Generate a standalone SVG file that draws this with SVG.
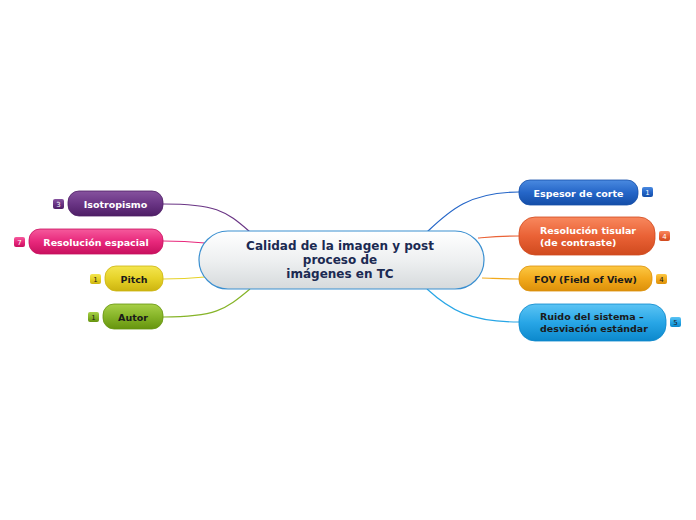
<svg xmlns="http://www.w3.org/2000/svg" width="696" height="520" viewBox="0 0 696 520">
<defs>
<linearGradient id="gc" x1="0" y1="0" x2="0" y2="1"><stop offset="0" stop-color="#ffffff"/><stop offset="0.5" stop-color="#eef0f1"/><stop offset="1" stop-color="#d6dadc"/></linearGradient>
<linearGradient id="gpur" x1="0" y1="0" x2="0" y2="1"><stop offset="0" stop-color="#86529e"/><stop offset="0.5" stop-color="#6a3585"/><stop offset="1" stop-color="#4e1e66"/></linearGradient>
<linearGradient id="gpink" x1="0" y1="0" x2="0" y2="1"><stop offset="0" stop-color="#f55a9c"/><stop offset="0.5" stop-color="#e8287c"/><stop offset="1" stop-color="#c8105e"/></linearGradient>
<linearGradient id="gyel" x1="0" y1="0" x2="0" y2="1"><stop offset="0" stop-color="#f4e650"/><stop offset="0.5" stop-color="#e6d228"/><stop offset="1" stop-color="#ccb410"/></linearGradient>
<linearGradient id="ggrn" x1="0" y1="0" x2="0" y2="1"><stop offset="0" stop-color="#a8d048"/><stop offset="0.5" stop-color="#86b428"/><stop offset="1" stop-color="#66940e"/></linearGradient>
<linearGradient id="gblu" x1="0" y1="0" x2="0" y2="1"><stop offset="0" stop-color="#4a8ae0"/><stop offset="0.5" stop-color="#2566c8"/><stop offset="1" stop-color="#144ea8"/></linearGradient>
<linearGradient id="gred" x1="0" y1="0" x2="0" y2="1"><stop offset="0" stop-color="#f8885e"/><stop offset="0.5" stop-color="#ea6236"/><stop offset="1" stop-color="#d04a1e"/></linearGradient>
<linearGradient id="gorg" x1="0" y1="0" x2="0" y2="1"><stop offset="0" stop-color="#fcc844"/><stop offset="0.5" stop-color="#f2aa1c"/><stop offset="1" stop-color="#dc900a"/></linearGradient>
<linearGradient id="gsky" x1="0" y1="0" x2="0" y2="1"><stop offset="0" stop-color="#5cc4f4"/><stop offset="0.5" stop-color="#28a6e6"/><stop offset="1" stop-color="#0c88cc"/></linearGradient>
</defs>
<style>
text{font-family:"DejaVu Sans",Verdana,sans-serif;font-weight:bold;}
.t{font-size:9.5px;text-anchor:middle;}
.tl{font-size:9.5px;}
.w{fill:#ffffff;}
.k{fill:#1a1a1a;}
.b{font-size:7px;text-anchor:middle;font-weight:normal;}
.c{fill:none;stroke-width:1.2;}
</style>
<g id="connectors">
<path class="c" stroke="#6a3585" d="M163,204 C215,204 225,210 250,232"/>
<path class="c" stroke="#e8287c" d="M163,241 C185,241 195,242 205,243"/>
<path class="c" stroke="#e6d228" d="M163,279 C185,279 195,278 205,277"/>
<path class="c" stroke="#86b428" d="M163,317 C215,317 225,310 250,289"/>
<path class="c" stroke="#2566c8" d="M519,192 C470,192 450,210 427,232"/>
<path class="c" stroke="#ea6236" d="M519,236 C500,236 490,237 478,238"/>
<path class="c" stroke="#f2aa1c" d="M519,279 C500,279 490,278 482,278"/>
<path class="c" stroke="#28a6e6" d="M519,322 C470,322 450,310 427,289"/>
</g>
<g id="center">
<rect x="199" y="231" width="285" height="58" rx="29" fill="url(#gc)" stroke="#3a8fd0" stroke-width="1.2"/>
<text x="340" y="250" font-size="12" text-anchor="middle" fill="#1b2a52">Calidad de la imagen y post</text>
<text x="340" y="264" font-size="12" text-anchor="middle" fill="#1b2a52">proceso de</text>
<text x="340" y="278" font-size="12" text-anchor="middle" fill="#1b2a52">imágenes en TC</text>
</g>
<g id="isotropismo">
<rect x="68" y="191" width="95" height="25" rx="11" fill="url(#gpur)" stroke="#4e1e66" stroke-width="0.8"/>
<text class="t w" x="115.5" y="207.5">Isotropismo</text>
<rect x="53" y="199" width="11" height="10" rx="2" fill="url(#gpur)"/>
<text class="b w" x="58.5" y="206.5">3</text>
</g>
<g id="resolucion-espacial">
<rect x="29" y="229" width="134" height="25" rx="11" fill="url(#gpink)" stroke="#c8105e" stroke-width="0.8"/>
<text class="t w" x="96" y="245.5">Resolución espacial</text>
<rect x="14" y="237" width="11" height="10" rx="2" fill="url(#gpink)"/>
<text class="b w" x="19.5" y="244.5">7</text>
</g>
<g id="pitch">
<rect x="105" y="266" width="58" height="25" rx="11" fill="url(#gyel)" stroke="#ccb410" stroke-width="0.8"/>
<text class="t k" x="134" y="282.5">Pitch</text>
<rect x="90" y="274" width="11" height="10" rx="2" fill="url(#gyel)"/>
<text class="b k" x="95.5" y="281.5">1</text>
</g>
<g id="autor">
<rect x="103" y="304" width="60" height="25" rx="11" fill="url(#ggrn)" stroke="#66940e" stroke-width="0.8"/>
<text class="t k" x="133" y="320.5">Autor</text>
<rect x="88" y="312" width="11" height="10" rx="2" fill="url(#ggrn)"/>
<text class="b k" x="93.5" y="319.5">1</text>
</g>
<g id="espesor">
<rect x="519" y="180" width="119" height="25" rx="11" fill="url(#gblu)" stroke="#144ea8" stroke-width="0.8"/>
<text class="t w" x="578.5" y="196.5">Espesor de corte</text>
<rect x="642" y="187" width="11" height="10" rx="2" fill="url(#gblu)"/>
<text class="b w" x="647.5" y="194.5">1</text>
</g>
<g id="resolucion-tisular">
<rect x="519" y="217" width="136" height="38" rx="16" fill="url(#gred)" stroke="#d04a1e" stroke-width="0.8"/>
<text class="tl w" x="540" y="234">Resolución tisular</text>
<text class="tl w" x="540" y="246">(de contraste)</text>
<rect x="659" y="231" width="11" height="10" rx="2" fill="url(#gred)"/>
<text class="b w" x="664.5" y="238.5">4</text>
</g>
<g id="fov">
<rect x="519" y="266" width="133" height="25" rx="11" fill="url(#gorg)" stroke="#dc900a" stroke-width="0.8"/>
<text class="t k" x="585.5" y="282.5">FOV (Field of View)</text>
<rect x="656" y="274" width="11" height="10" rx="2" fill="url(#gorg)"/>
<text class="b k" x="661.5" y="281.5">4</text>
</g>
<g id="ruido">
<rect x="519" y="304" width="147" height="37" rx="16" fill="url(#gsky)" stroke="#0c88cc" stroke-width="0.8"/>
<text class="tl k" x="540" y="320">Ruido del sistema –</text>
<text class="tl k" x="540" y="332">desviación estándar</text>
<rect x="670" y="317" width="11" height="10" rx="2" fill="url(#gsky)"/>
<text class="b k" x="675.5" y="324.5">5</text>
</g>
</svg>
